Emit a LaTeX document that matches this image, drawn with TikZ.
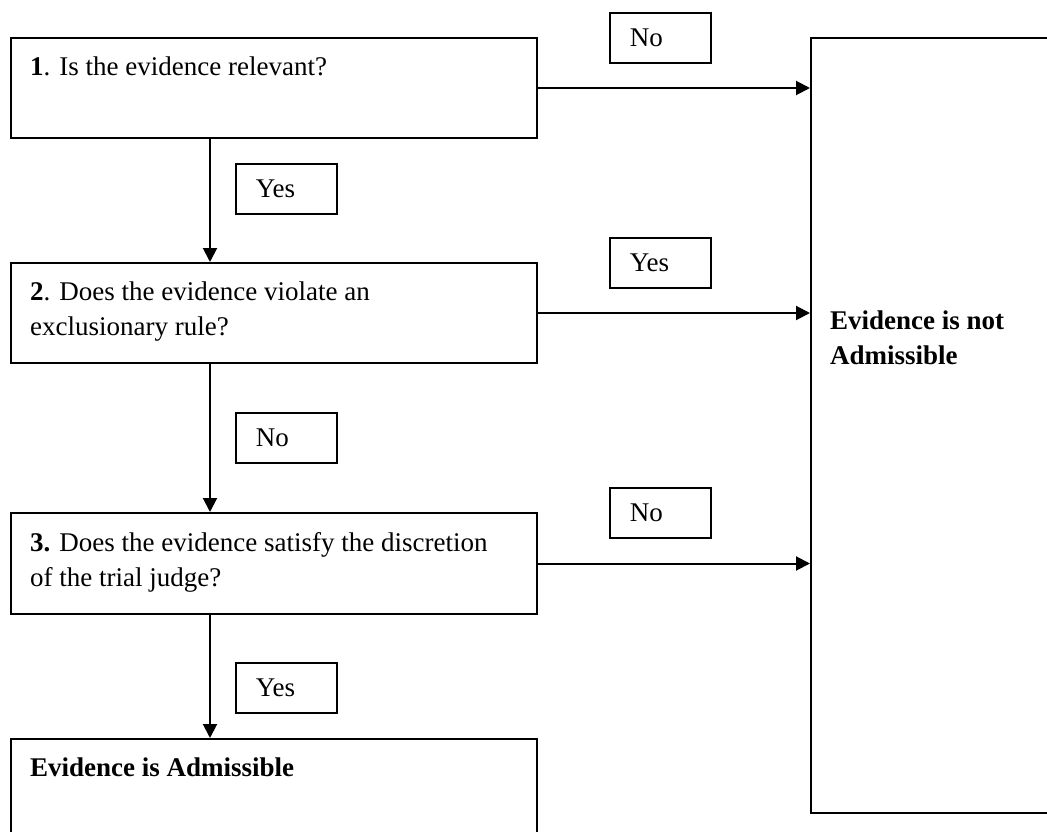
\documentclass[tikz,border=0pt]{standalone}
\usepackage{fontspec}
\setmainfont{Liberation Serif}
\usetikzlibrary{arrows.meta}
\begin{document}
\begin{tikzpicture}[x=1pt,y=-1pt,
  qbox/.style={draw, line width=2pt, anchor=north west, inner sep=0pt, fill=white},
  qtext/.style={anchor=north west, inner sep=0pt, align=left, font=\fontsize{27}{35}\selectfont},
  lbl/.style={draw, line width=1.8pt, anchor=north west, minimum height=50pt, text width=61pt, inner xsep=20pt, inner ysep=0pt, align=left, font=\fontsize{27}{35}\selectfont},
  conn/.style={line width=2pt, -{Triangle[length=14pt,width=14pt]}}]
\fill[white] (0,0) rectangle (1047,832);
\useasboundingbox (0,0) rectangle (1047,832);
% question boxes
\node[qbox, minimum width=526pt, minimum height=100pt] (b1) at (10,37) {};
\node[qbox, minimum width=526pt, minimum height=100pt] (b2) at (10,262) {};
\node[qbox, minimum width=526pt, minimum height=101pt] (b3) at (10,512) {};
\node[qbox, minimum width=526pt, minimum height=120pt] (b4) at (10,738) {};
\node[qbox, minimum width=260pt, minimum height=775pt] (nb) at (810,37) {};
% texts
\node[qtext] (t1) at (30,57) {\textbf{1}. Is the evidence relevant?};
\node[qtext] (t2) at (30,282) {\textbf{2}. Does the evidence violate an\\exclusionary rule?};
\node[qtext] (t3) at (30,532) {\textbf{3.} Does the evidence satisfy the discretion\\of the trial judge?};
\node[qtext] (t4) at (30,758) {\textbf{Evidence is Admissible}};
\node[qtext] (t5) at (830,311) {\textbf{Evidence is not}\\\textbf{Admissible}};
% labels
\node[lbl] (l1) at (235,163) {Yes};
\node[lbl] (l2) at (235,412) {No};
\node[lbl] (l3) at (235,662) {Yes};
\node[lbl] (r1) at (609,12) {No};
\node[lbl] (r2) at (609,237) {Yes};
\node[lbl] (r3) at (609,487) {No};
% connectors
\coordinate (ax) at (210,0);
\draw[conn] (b1.south -| ax) -- (b2.north -| ax);
\draw[conn] (b2.south -| ax) -- (b3.north -| ax);
\draw[conn] (b3.south -| ax) -- (b4.north -| ax);
\draw[conn] (b1.east) -- (b1.east -| nb.west);
\draw[conn] (b2.east) -- (b2.east -| nb.west);
\draw[conn] (b3.east) -- (b3.east -| nb.west);
\end{tikzpicture}
\end{document}
